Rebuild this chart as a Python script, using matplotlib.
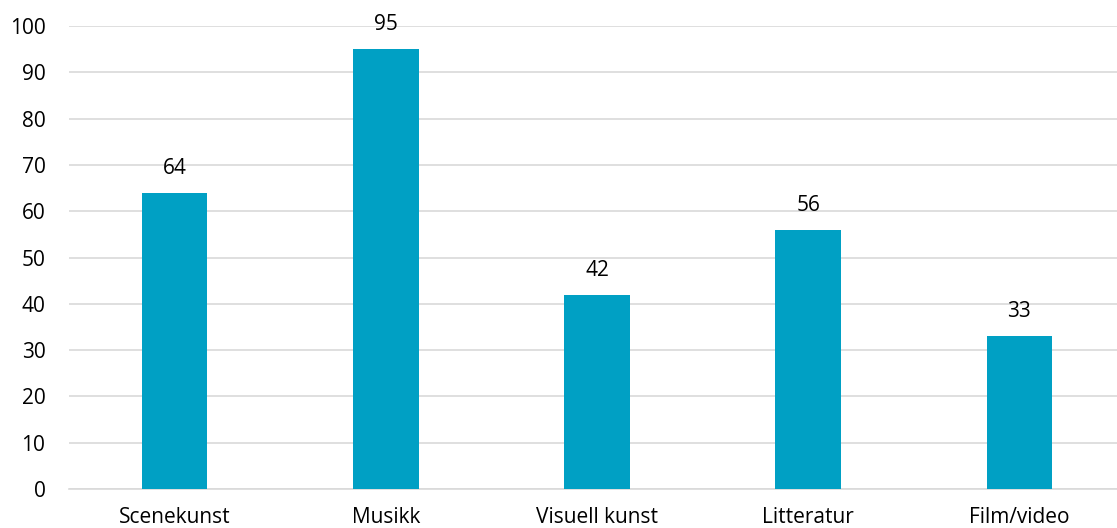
import matplotlib
matplotlib.use("Agg")
import matplotlib.pyplot as plt

categories = ["Scenekunst", "Musikk", "Visuell kunst", "Litteratur", "Film/video"]
values = [64, 95, 42, 56, 33]
yticks = [0, 10, 20, 30, 40, 50, 60, 70, 80, 90, 100]

plt.rcParams['font.family'] = ['Open Sans', 'DejaVu Sans']
FS = 15

fig = plt.figure(figsize=(11.17, 5.28), dpi=100)
ax = fig.add_axes([69/1117, 1-489/528, (1125-69)/1117, (489-26)/528])

x = range(len(categories))
bars = ax.bar(x, values, width=0.31, color="#00A0C4", zorder=3)
for xi, v in zip(x, values):
    ax.text(xi, v + 3, str(v), ha="center", va="bottom", fontsize=FS, color="#000000")

ax.set_xlim(-0.5, len(categories) - 0.5)
ax.set_ylim(0, 100)
ax.set_yticks(yticks)
ax.set_yticklabels([str(t) for t in yticks])
ax.set_xticks(list(x))
ax.set_xticklabels(categories)
ax.tick_params(axis="both", length=0, labelsize=FS, colors="#000000")
ax.tick_params(axis="y", pad=17)
ax.tick_params(axis="x", pad=13)
ax.yaxis.grid(True, color="#d9d9d9", linewidth=1.2, zorder=0)
for s in ["top", "right", "left"]:
    ax.spines[s].set_visible(False)
ax.spines["bottom"].set_color("#d9d9d9")
ax.spines["bottom"].set_linewidth(1.2)
ax.set_clip_on(False)

fig.savefig("out.png", dpi=100)
